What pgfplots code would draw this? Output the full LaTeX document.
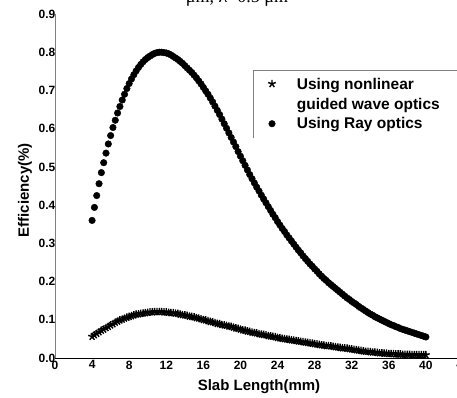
\documentclass[border=0pt]{standalone}
\usepackage{fontspec}
\setmainfont{Liberation Sans}
\newfontfamily\titlefont{Liberation Serif}
\usepackage{pgfplots}
\usepackage{pgfplotstable}
\pgfplotsset{compat=1.18}

\pgfplotstableread{
x y
4.00 0.360
4.25 0.394
4.50 0.425
4.75 0.456
5.00 0.485
5.25 0.511
5.50 0.536
5.75 0.560
6.00 0.582
6.25 0.603
6.50 0.622
6.75 0.641
7.00 0.658
7.25 0.675
7.50 0.690
7.75 0.705
8.00 0.718
8.25 0.730
8.50 0.741
8.75 0.751
9.00 0.760
9.25 0.768
9.50 0.775
9.75 0.781
10.00 0.786
10.25 0.790
10.50 0.794
10.75 0.797
11.00 0.799
11.25 0.800
11.50 0.800
11.75 0.799
12.00 0.798
12.25 0.796
12.50 0.793
12.75 0.789
13.00 0.785
13.25 0.781
13.50 0.776
13.75 0.771
14.00 0.765
14.25 0.759
14.50 0.753
14.75 0.747
15.00 0.740
15.25 0.733
15.50 0.725
15.75 0.717
16.00 0.708
16.25 0.699
16.50 0.690
16.75 0.680
17.00 0.670
17.25 0.659
17.50 0.648
17.75 0.637
18.00 0.625
18.25 0.613
18.50 0.601
18.75 0.589
19.00 0.577
19.25 0.565
19.50 0.553
19.75 0.540
20.00 0.528
20.25 0.516
20.50 0.504
20.75 0.492
21.00 0.480
21.25 0.469
21.50 0.458
21.75 0.447
22.00 0.437
22.25 0.426
22.50 0.416
22.75 0.406
23.00 0.396
23.25 0.386
23.50 0.376
23.75 0.367
24.00 0.357
24.25 0.348
24.50 0.339
24.75 0.331
25.00 0.322
25.25 0.314
25.50 0.306
25.75 0.298
26.00 0.290
26.25 0.282
26.50 0.275
26.75 0.267
27.00 0.260
27.25 0.253
27.50 0.246
27.75 0.240
28.00 0.233
28.25 0.227
28.50 0.220
28.75 0.214
29.00 0.208
29.25 0.203
29.50 0.197
29.75 0.192
30.00 0.187
30.25 0.182
30.50 0.177
30.75 0.172
31.00 0.167
31.25 0.162
31.50 0.157
31.75 0.153
32.00 0.148
32.25 0.144
32.50 0.140
32.75 0.135
33.00 0.131
33.25 0.127
33.50 0.123
33.75 0.119
34.00 0.115
34.25 0.112
34.50 0.108
34.75 0.105
35.00 0.102
35.25 0.099
35.50 0.096
35.75 0.093
36.00 0.090
36.25 0.087
36.50 0.085
36.75 0.082
37.00 0.080
37.25 0.077
37.50 0.075
37.75 0.073
38.00 0.071
38.25 0.069
38.50 0.067
38.75 0.065
39.00 0.063
39.25 0.061
39.50 0.059
39.75 0.057
40.00 0.055
}\raydata

\pgfplotstableread{
x y
4.00 0.056
4.25 0.060
4.50 0.064
4.75 0.068
5.00 0.072
5.25 0.075
5.50 0.079
5.75 0.082
6.00 0.086
6.25 0.089
6.50 0.093
6.75 0.096
7.00 0.099
7.25 0.101
7.50 0.104
7.75 0.106
8.00 0.108
8.25 0.110
8.50 0.112
8.75 0.114
9.00 0.115
9.25 0.116
9.50 0.117
9.75 0.118
10.00 0.119
10.25 0.120
10.50 0.120
10.75 0.121
11.00 0.121
11.25 0.121
11.50 0.121
11.75 0.120
12.00 0.120
12.25 0.119
12.50 0.118
12.75 0.118
13.00 0.117
13.25 0.116
13.50 0.114
13.75 0.113
14.00 0.112
14.25 0.111
14.50 0.109
14.75 0.108
15.00 0.107
15.25 0.105
15.50 0.104
15.75 0.102
16.00 0.100
16.25 0.099
16.50 0.097
16.75 0.095
17.00 0.094
17.25 0.092
17.50 0.090
17.75 0.089
18.00 0.087
18.25 0.086
18.50 0.085
18.75 0.083
19.00 0.082
19.25 0.080
19.50 0.078
19.75 0.077
20.00 0.075
20.25 0.073
20.50 0.072
20.75 0.070
21.00 0.069
21.25 0.067
21.50 0.066
21.75 0.065
22.00 0.063
22.25 0.062
22.50 0.061
22.75 0.060
23.00 0.058
23.25 0.057
23.50 0.056
23.75 0.055
24.00 0.053
24.25 0.052
24.50 0.051
24.75 0.050
25.00 0.049
25.25 0.048
25.50 0.047
25.75 0.046
26.00 0.045
26.25 0.044
26.50 0.043
26.75 0.042
27.00 0.041
27.25 0.040
27.50 0.039
27.75 0.038
28.00 0.037
28.25 0.036
28.50 0.035
28.75 0.034
29.00 0.033
29.25 0.032
29.50 0.032
29.75 0.031
30.00 0.030
30.25 0.029
30.50 0.028
30.75 0.027
31.00 0.026
31.25 0.026
31.50 0.025
31.75 0.024
32.00 0.023
32.25 0.022
32.50 0.021
32.75 0.020
33.00 0.019
33.25 0.018
33.50 0.017
33.75 0.017
34.00 0.016
34.25 0.015
34.50 0.015
34.75 0.014
35.00 0.013
35.25 0.013
35.50 0.012
35.75 0.012
36.00 0.011
36.25 0.011
36.50 0.011
36.75 0.010
37.00 0.010
37.25 0.010
37.50 0.009
37.75 0.009
38.00 0.009
38.25 0.009
38.50 0.008
38.75 0.008
39.00 0.008
39.25 0.008
39.50 0.008
39.75 0.008
40.00 0.008
}\stardata

\begin{document}
\begin{tikzpicture}
\path[use as bounding box] (-55pt,-39pt) rectangle (402pt,358pt);
\clip (-55pt,-39pt) rectangle (402pt,358pt);
\node[font=\titlefont\fontsize{18}{18}\selectfont, anchor=base] at (182pt,355pt) {μm, λ=0.5 μm};
\begin{axis}[
  at={(0pt,0pt)}, anchor=south west, scale only axis,
  width=408pt, height=344pt,
  xmin=0, xmax=44, ymin=0, ymax=0.9,
  axis lines=left, axis line style={-},
  x axis line style={black, line width=0.9pt},
  y axis line style={gray, line width=0.7pt},
  xtick={0,4,8,12,16,20,24,28,32,36,40,44},
  ytick={0,0.1,0.2,0.3,0.4,0.5,0.6,0.7,0.8,0.9},
  major tick length=0pt,
  clip=false,
  /pgf/number format/assume math mode=true,
  tick label style={font=\bfseries\fontsize{12}{12}\selectfont},
  yticklabel style={/pgf/number format/.cd, fixed, fixed zerofill, precision=1, /tikz/.cd, inner xsep=0pt, xshift=0.5pt},
  xticklabel style={inner ysep=0pt, yshift=-2.5pt},
  xlabel={Slab Length(mm)},
  ylabel={Efficiency(\%)},
  label style={font=\bfseries\fontsize{15}{15}\selectfont},
  xlabel style={at={(axis description cs:0.5,-0.0959)}, anchor=base},
  ylabel style={at={(axis description cs:-0.064,0.488)}, anchor=base},
  legend style={draw=none, fill=none, at={(axis description cs:0.4853,0.8372)}, anchor=north west,
    font=\bfseries\fontsize{15.5}{19.5}\selectfont, inner sep=2pt, row sep=22pt, column sep=19pt,
    xshift=13pt, yshift=-2pt},
  legend cell align=left,
]
\addplot[only marks, mark=star, mark size=4pt, black, mark options={line width=1.4pt}] table[x=x,y=y] {\stardata};
\addlegendentry{\begin{tabular}[t]{@{}l@{}}Using nonlinear\\guided wave optics\end{tabular}}
\addplot[only marks, mark=*, mark size=3.3pt, black] table[x=x,y=y] {\raydata};
\addlegendentry{Using Ray optics}
\end{axis}
\draw[gray, line width=0.6pt] (198pt,220pt) -- (198pt,288pt) -- (410pt,288pt);
\end{tikzpicture}
\end{document}
